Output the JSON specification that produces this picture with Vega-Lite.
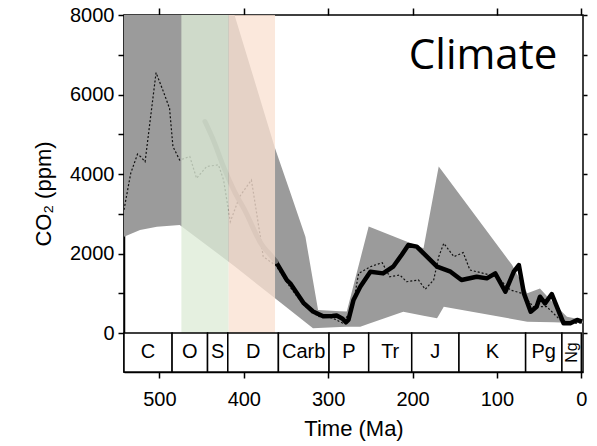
{
  "$schema": "https://vega.github.io/schema/vega-lite/v6.json",
  "width": 459,
  "height": 357,
  "autosize": {"type": "none"},
  "padding": {"left": 124, "top": 15, "right": 14, "bottom": 74},
  "background": "white",
  "config": {
    "view": {"stroke": "black", "strokeWidth": 1.5},
    "axis": {"grid": false, "domainColor": "black", "domainWidth": 1.5, "tickColor": "black", "tickWidth": 1.5, "labelColor": "black", "titleColor": "black", "labelFont": "Liberation Sans", "titleFont": "Liberation Sans", "titleFontWeight": "normal"}
  },
  "datasets": {
    "env": [
      {"age": 542, "hi": 8000, "lo": 2420},
      {"age": 523, "hi": 8000, "lo": 2590},
      {"age": 503, "hi": 8000, "lo": 2675},
      {"age": 476, "hi": 8000, "lo": 2717},
      {"age": 418, "hi": 8000, "lo": 1794},
      {"age": 411, "hi": 8000, "lo": 1677},
      {"age": 363, "hi": 4650, "lo": 873},
      {"age": 345, "hi": 3540, "lo": 572},
      {"age": 327, "hi": 2420, "lo": 271},
      {"age": 318, "hi": 1316, "lo": 120},
      {"age": 312, "hi": 580, "lo": 125},
      {"age": 286, "hi": 550, "lo": 150},
      {"age": 278, "hi": 540, "lo": 160},
      {"age": 262, "hi": 1857, "lo": 160},
      {"age": 252, "hi": 2680, "lo": 234},
      {"age": 211, "hi": 2333, "lo": 536},
      {"age": 187, "hi": 2130, "lo": 436},
      {"age": 171, "hi": 3961, "lo": 370},
      {"age": 169, "hi": 4190, "lo": 443},
      {"age": 163, "hi": 4019, "lo": 660},
      {"age": 82, "hi": 1710, "lo": 353},
      {"age": 64, "hi": 1000, "lo": 285},
      {"age": 49, "hi": 1120, "lo": 280},
      {"age": 33, "hi": 750, "lo": 270},
      {"age": 17, "hi": 410, "lo": 258},
      {"age": -2, "hi": 330, "lo": 243}
    ],
    "dotted": [
      {"age": 542, "co2": 3100}, {"age": 534, "co2": 4020}, {"age": 526, "co2": 4500},
      {"age": 522, "co2": 4430}, {"age": 517, "co2": 4310}, {"age": 504, "co2": 6550},
      {"age": 496, "co2": 6110}, {"age": 488, "co2": 5650}, {"age": 484, "co2": 4690},
      {"age": 476, "co2": 4350}, {"age": 464, "co2": 4440}, {"age": 456, "co2": 3890},
      {"age": 444, "co2": 4190}, {"age": 430, "co2": 4230}, {"age": 424, "co2": 3850},
      {"age": 416, "co2": 2800}, {"age": 405, "co2": 3430}, {"age": 391, "co2": 3850},
      {"age": 381, "co2": 2500}, {"age": 377, "co2": 1920}, {"age": 362, "co2": 1700},
      {"age": 345, "co2": 1150}, {"age": 329, "co2": 700}, {"age": 312, "co2": 420},
      {"age": 295, "co2": 380}, {"age": 283, "co2": 250}, {"age": 275, "co2": 500},
      {"age": 268, "co2": 1000}, {"age": 264, "co2": 1500}, {"age": 250, "co2": 1668},
      {"age": 236, "co2": 1770}, {"age": 227, "co2": 1416}, {"age": 215, "co2": 1459},
      {"age": 207, "co2": 1290}, {"age": 193, "co2": 1333}, {"age": 185, "co2": 1100},
      {"age": 175, "co2": 1333}, {"age": 169, "co2": 1920}, {"age": 163, "co2": 2256},
      {"age": 151, "co2": 1920}, {"age": 140, "co2": 2022}, {"age": 132, "co2": 1585},
      {"age": 116, "co2": 1500}, {"age": 100, "co2": 1416}, {"age": 84, "co2": 1080},
      {"age": 70, "co2": 997}, {"age": 57, "co2": 662}, {"age": 41, "co2": 662},
      {"age": 25, "co2": 327}, {"age": 9, "co2": 243}, {"age": 0, "co2": 260}
    ],
    "black": [
      {"age": 362, "co2": 1794}, {"age": 349, "co2": 1330}, {"age": 345, "co2": 1250},
      {"age": 329, "co2": 750}, {"age": 318, "co2": 540}, {"age": 306, "co2": 420},
      {"age": 295, "co2": 430}, {"age": 290, "co2": 440}, {"age": 283, "co2": 360},
      {"age": 279, "co2": 270}, {"age": 276, "co2": 330}, {"age": 270, "co2": 830},
      {"age": 262, "co2": 1165}, {"age": 250, "co2": 1542}, {"age": 235, "co2": 1500},
      {"age": 223, "co2": 1668}, {"age": 213, "co2": 1962}, {"age": 205, "co2": 2214},
      {"age": 195, "co2": 2172}, {"age": 183, "co2": 1920}, {"age": 171, "co2": 1668},
      {"age": 155, "co2": 1542}, {"age": 142, "co2": 1333}, {"age": 124, "co2": 1416},
      {"age": 112, "co2": 1375}, {"age": 102, "co2": 1500}, {"age": 90, "co2": 1038},
      {"age": 80, "co2": 1542}, {"age": 74, "co2": 1710}, {"age": 68, "co2": 997},
      {"age": 60, "co2": 536}, {"age": 53, "co2": 662}, {"age": 49, "co2": 913},
      {"age": 43, "co2": 746}, {"age": 35, "co2": 980}, {"age": 21, "co2": 243},
      {"age": 13, "co2": 243}, {"age": 5, "co2": 327}, {"age": -1, "co2": 285}
    ],
    "grayline": [
      {"age": 446, "co2": 5320}, {"age": 436, "co2": 4850}, {"age": 424, "co2": 4180},
      {"age": 412, "co2": 3600}, {"age": 397, "co2": 3010}, {"age": 381, "co2": 2300},
      {"age": 377, "co2": 2170}, {"age": 370, "co2": 2000}, {"age": 362, "co2": 1800}
    ],
    "bands": [
      {"name": "green", "from": 474, "to": 418},
      {"name": "peach", "from": 418, "to": 363}
    ],
    "periods": [
      {"p": "C", "from": 542, "to": 485, "mid": 513.5},
      {"p": "O", "from": 485, "to": 443, "mid": 464},
      {"p": "S", "from": 443, "to": 419, "mid": 431},
      {"p": "D", "from": 419, "to": 359, "mid": 389},
      {"p": "Carb", "from": 359, "to": 299, "mid": 329},
      {"p": "P", "from": 299, "to": 252, "mid": 275.5},
      {"p": "Tr", "from": 252, "to": 201, "mid": 226.5},
      {"p": "J", "from": 201, "to": 145, "mid": 173},
      {"p": "K", "from": 145, "to": 66, "mid": 105.5},
      {"p": "Pg", "from": 66, "to": 23, "mid": 44.5},
      {"p": "Ng", "from": 23, "to": 0, "mid": 11.5}
    ],
    "note": [{"label": "Climate", "age": 28.5, "co2": 6650}]
  },
  "resolve": {"axis": {"x": "independent", "y": "independent"}},
  "layer": [
    {
      "data": {"name": "env"},
      "mark": {"type": "area", "color": "#9b9b9b", "clip": true},
      "encoding": {
        "x": {"field": "age", "type": "quantitative", "scale": {"domain": [542, -2], "nice": false, "zero": false},
              "axis": {"orient": "bottom", "values": [500, 400, 300, 200, 100, 0], "tickSize": 6, "labelFontSize": 20, "labelPadding": 11, "title": "Time (Ma)", "titleFontSize": 22, "titlePadding": 9}},
        "y": {"field": "hi", "type": "quantitative", "scale": {"domain": [-981, 8000], "nice": false, "zero": false},
              "axis": {"orient": "left", "values": [0, 1000, 2000, 3000, 4000, 5000, 6000, 7000, 8000], "format": "d", "labelExpr": "datum.value % 2000 == 0 ? datum.label : ''", "tickSize": 6, "labelFontSize": 20, "labelPadding": 4, "title": "CO₂ (ppm)", "titleFontSize": 22, "titlePadding": 14}},
        "y2": {"field": "lo"}
      }
    },
    {
      "data": {"name": "dotted"},
      "mark": {"type": "line", "color": "#111111", "strokeWidth": 1.2, "strokeDash": [2, 2], "clip": true},
      "encoding": {
        "x": {"field": "age", "type": "quantitative", "axis": null},
        "y": {"field": "co2", "type": "quantitative", "axis": null}
      }
    },
    {
      "data": {"name": "black"},
      "mark": {"type": "line", "color": "black", "strokeWidth": 4.5, "strokeJoin": "round", "clip": true},
      "encoding": {
        "x": {"field": "age", "type": "quantitative", "axis": null},
        "y": {"field": "co2", "type": "quantitative", "axis": null}
      }
    },
    {
      "data": {"name": "grayline"},
      "mark": {"type": "line", "color": "#6e6e6e", "strokeWidth": 5, "strokeCap": "round", "interpolate": "monotone"},
      "encoding": {
        "x": {"field": "age", "type": "quantitative", "axis": {"orient": "top", "values": [500, 400, 300, 200, 100, 0], "labels": false, "tickSize": 7, "title": null, "domain": false}},
        "y": {"field": "co2", "type": "quantitative", "axis": {"orient": "right", "values": [0, 1000, 2000, 3000, 4000, 5000, 6000, 7000, 8000], "labels": false, "tickSize": 4, "title": null, "domain": false}}
      }
    },
    {
      "data": {"name": "bands"},
      "mark": {"type": "rect", "opacity": 0.78},
      "encoding": {
        "x": {"field": "from", "type": "quantitative", "axis": null},
        "x2": {"field": "to"},
        "y": {"datum": 0, "type": "quantitative", "axis": null},
        "y2": {"datum": 8000},
        "color": {"field": "name", "type": "nominal", "scale": {"domain": ["green", "peach"], "range": ["#deecd7", "#fae1d2"]}, "legend": null}
      }
    },
    {
      "data": {"name": "periods"},
      "mark": {"type": "rect", "fill": "white", "stroke": "black", "strokeWidth": 1.5},
      "encoding": {
        "x": {"field": "from", "type": "quantitative", "axis": null},
        "x2": {"field": "to"},
        "y": {"datum": 0, "type": "quantitative", "axis": null},
        "y2": {"datum": -981}
      }
    },
    {
      "data": {"name": "periods"},
      "transform": [{"filter": "datum.p != 'Ng'"}],
      "mark": {"type": "text", "font": "Liberation Sans", "fontSize": 20, "color": "black", "baseline": "middle", "align": "center"},
      "encoding": {
        "x": {"field": "mid", "type": "quantitative", "axis": null},
        "y": {"datum": -490, "type": "quantitative", "axis": null},
        "text": {"field": "p"}
      }
    },
    {
      "data": {"name": "periods"},
      "transform": [{"filter": "datum.p == 'Ng'"}],
      "mark": {"type": "text", "font": "Liberation Sans", "fontSize": 16, "color": "black", "baseline": "middle", "align": "center", "angle": 270},
      "encoding": {
        "x": {"field": "mid", "type": "quantitative", "axis": null},
        "y": {"datum": -490, "type": "quantitative", "axis": null},
        "text": {"field": "p"}
      }
    },
    {
      "data": {"name": "note"},
      "mark": {"type": "text", "font": "Open Sans", "fontSize": 42, "color": "black", "align": "right", "baseline": "alphabetic"},
      "encoding": {
        "x": {"field": "age", "type": "quantitative", "axis": null},
        "y": {"field": "co2", "type": "quantitative", "axis": null},
        "text": {"field": "label"}
      }
    }
  ]
}
